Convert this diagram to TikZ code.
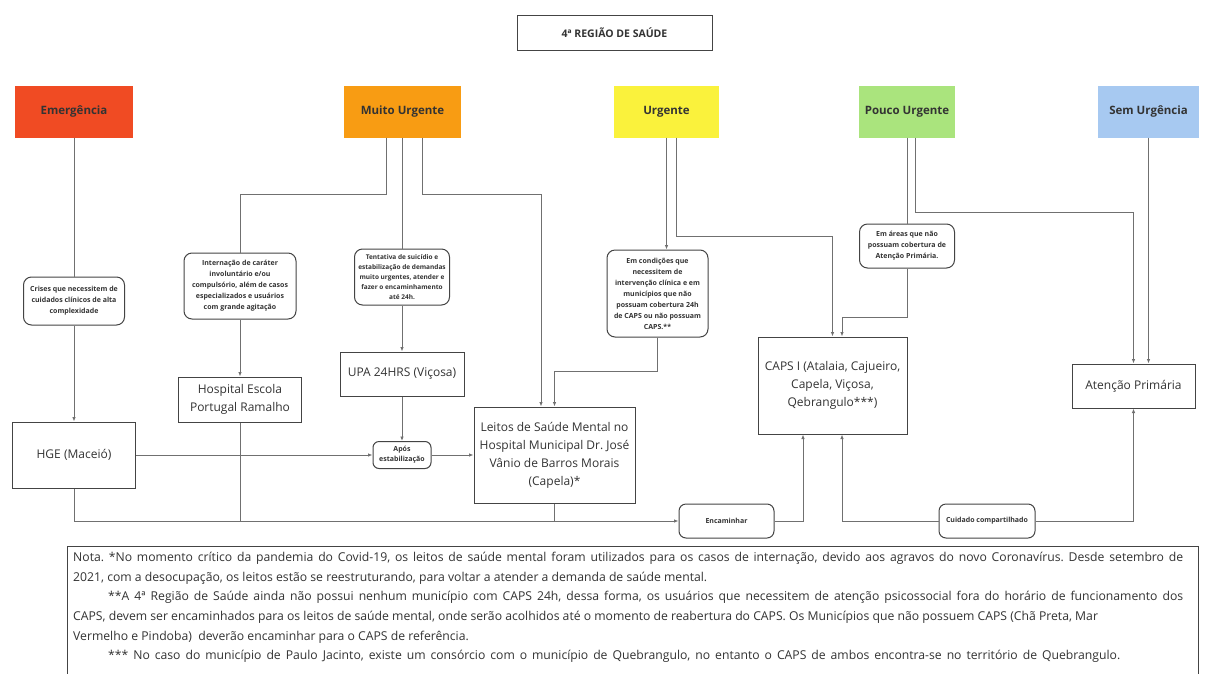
\documentclass[tikz,border=0pt]{standalone}
\usepackage{fontspec}
\setmainfont{Open Sans}
\usetikzlibrary{arrows.meta,calc}
\frenchspacing
\definecolor{cEm}{HTML}{F04B23}
\definecolor{cMu}{HTML}{F89C13}
\definecolor{cUr}{HTML}{FAF23C}
\definecolor{cPu}{HTML}{AAE47D}
\definecolor{cSu}{HTML}{A7C9F1}
\definecolor{edgec}{HTML}{707070}
\definecolor{bord}{HTML}{444444}
\definecolor{txt}{HTML}{333333}
\begin{document}
\begin{tikzpicture}[x=1pt,y=-1pt,
 cat/.style={minimum height=52pt, inner sep=0pt, text=txt, font=\fontsize{11.5}{14}\selectfont\bfseries},
 bigbox/.style={draw=bord, line width=1pt, fill=white, inner sep=0pt, align=center, text=txt, font=\fontsize{12}{18}\selectfont},
 rbox/.style={draw=bord, line width=1pt, fill=white, rounded corners=8pt, inner sep=0pt, align=center, text=txt, font=\fontsize{7}{11}\selectfont\bfseries},
 conn/.style={draw=edgec, line width=0.9pt},
 arr/.style={conn, -{Latex[length=4.5pt,width=3.5pt]}},
 notetxt/.style={anchor=base west, inner sep=0pt, text=txt, font=\fontsize{12.2}{14}\selectfont\frenchspacing},
]
\fill[white] (0,0) rectangle (1208,673);
\useasboundingbox (0,0) rectangle (1208,673);

% title
\node[draw=bord, line width=1pt, minimum width=195pt, minimum height=35pt, inner sep=0pt, text=txt,
      font=\fontsize{10.5}{12}\selectfont\bfseries] (title) at (614.5,32.5) {4ª REGIÃO DE SAÚDE};

% categories
\node[cat, fill=cEm, minimum width=118pt] (em) at (74,111.5) {Emergência};
\node[cat, fill=cMu, minimum width=117pt] (mu) at (402.5,111.5) {Muito Urgente};
\node[cat, fill=cUr, minimum width=105pt] (ur) at (666.5,111.5) {Urgente};
\node[cat, fill=cPu, minimum width=96pt] (pu) at (907,111.5) {Pouco Urgente};
\node[cat, fill=cSu, minimum width=101pt] (su) at (1148.5,111.5) {Sem Urgência};

% condition boxes
\node[rbox, minimum width=101pt, minimum height=48pt] (crises) at (74,301) {Crises que necessitem de\\cuidados clínicos de alta\\complexidade};
\node[rbox, minimum width=112pt, minimum height=66pt] (intern) at (240,286) {Internação de caráter\\involuntário e/ou\\compulsório, além de casos\\especializados e usuários\\com grande agitação};
\node[rbox, minimum width=95pt, minimum height=56pt, font=\fontsize{6.5}{10}\selectfont\bfseries] (tent) at (402,277) {Tentativa de suicídio e\\estabilização de demandas\\muito urgentes, atender e\\fazer o encaminhamento\\até 24h.};
\node[rbox, minimum width=101pt, minimum height=87pt] (cond) at (657.5,293.5) {Em condições que\\necessitem de\\intervenção clínica e em\\municípios que não\\possuam cobertura 24h\\de CAPS ou não possuam\\CAPS.**};
\node[rbox, minimum width=95pt, minimum height=44pt] (areas) at (907,246) {Em áreas que não\\possuam cobertura de\\Atenção Primária.};
\node[rbox, rounded corners=6pt, minimum width=58pt, minimum height=27pt, font=\fontsize{7}{10}\selectfont\bfseries] (apos) at (402,455) {Após\\estabilização};
\node[rbox, rounded corners=7pt, minimum width=95pt, minimum height=34pt] (enc) at (726.5,521) {Encaminhar};
\node[rbox, rounded corners=7pt, minimum width=96pt, minimum height=34pt] (cuid) at (987,521) {Cuidado compartilhado};

% service boxes
\node[bigbox, minimum width=123pt, minimum height=66pt] (hge) at (74,455) {HGE (Maceió)};
\node[bigbox, minimum width=123pt, minimum height=45pt] (hosp) at (240,399.5) {Hospital Escola\\Portugal Ramalho};
\node[bigbox, minimum width=124pt, minimum height=44pt] (upa) at (402,374) {UPA 24HRS (Viçosa)};
\node[bigbox, minimum width=161pt, minimum height=96pt] (leitos) at (554.5,455) {Leitos de Saúde Mental no\\Hospital Municipal Dr. José\\Vânio de Barros Morais\\(Capela)*};
\node[bigbox, minimum width=149pt, minimum height=97pt] (caps) at (832.5,385.5) {CAPS I (Atalaia, Cajueiro,\\Capela, Viçosa,\\Qebrangulo***)};
\node[bigbox, minimum width=123pt, minimum height=44pt] (ap) at (1133.5,386) {Atenção Primária};

% connectors: Emergência
\draw[conn] (em.south) -- (crises.north);
\draw[arr] (crises.south) -- (hge.north);
% Muito Urgente
\draw[conn] ([xshift=-16.5pt]mu.south) |- ($(intern.north)+(0,-58)$) -- (intern.north);
\draw[arr] (intern.south) -- (hosp.north);
\draw[conn] (mu.south -| tent.north) -- (tent.north);
\draw[arr] (tent.south) -- (upa.north);
\draw[arr] (upa.south) -- (apos.north);
\draw[arr] ([xshift=19.5pt]mu.south) |- ($(leitos.north)+(-13.5,-212)$) -- ([xshift=-13.5pt]leitos.north);
% Urgente
\draw[arr] (ur.south) -- (ur.south |- cond.north);
\draw[arr] (cond.south) |- ($(leitos.north)+(0,-35)$) -- (leitos.north);
\draw[arr] ([xshift=9.5pt]ur.south) |- ($(caps.north)+(0,-100)$) -- (caps.north);
% Pouco Urgente
\draw[conn] (pu.south) -- (areas.north);
\draw[arr] (areas.south) |- ($(caps.north)+(9.5,-19)$) -- ([xshift=9.5pt]caps.north);
\draw[arr] ([xshift=8pt]pu.south) |- ($(ap.north)+(0,-151)$) -- (ap.north);
% Sem Urgência
\draw[arr] (su.south) -- (su.south |- ap.north);
% middle flows
\draw[arr] (hge.east) -- (apos.west);
\draw[arr] (apos.east) -- (leitos.west);
\draw[arr] (hge.south) |- (enc.west);
\draw[conn] (hosp.south) -- (hosp.south |- enc.west);
\draw[conn] (leitos.south) -- (leitos.south |- enc.west);
\draw[arr] (enc.east) -| ([xshift=-29.5pt]caps.south);
\draw[arr] (cuid.west) -| ([xshift=9.5pt]caps.south);
\draw[arr] (cuid.east) -| (ap.south);

% note
\node[draw=bord, line width=1pt, minimum width=1131pt, minimum height=132pt, anchor=north west, inner sep=0pt] (notebox) at (67,546) {};
\node[notetxt] (n1) at (73,561) {\makebox[1110pt][s]{Nota. *No momento crítico da pandemia do Covid-19, os leitos de saúde mental foram utilizados para os casos de internação, devido aos agravos do novo Coronavírus. Desde setembro de}};
\node[notetxt] (n2) at (73,581) {2021, com a desocupação, os leitos estão se reestruturando, para voltar a atender a demanda de saúde mental.};
\node[notetxt] (n3) at (108,600.5) {\makebox[1075pt][s]{**A 4ª Região de Saúde ainda não possui nenhum município com CAPS 24h, dessa forma, os usuários que necessitem de atenção psicossocial fora do horário de funcionamento dos}};
\node[notetxt] (n4) at (73,620) {CAPS, devem ser encaminhados para os leitos de saúde mental, onde serão acolhidos até o momento de reabertura do CAPS. Os Municípios que não possuem CAPS (Chã Preta, Mar};
\node[notetxt] (n5) at (73,640) {Vermelho e Pindoba)\ \ deverão encaminhar para o CAPS de referência.};
\node[notetxt] (n6) at (108,659) {\makebox[1012pt][s]{*** No caso do município de Paulo Jacinto, existe um consórcio com o município de Quebrangulo, no entanto o CAPS de ambos encontra-se no território de Quebrangulo.}};
\end{tikzpicture}
\end{document}
